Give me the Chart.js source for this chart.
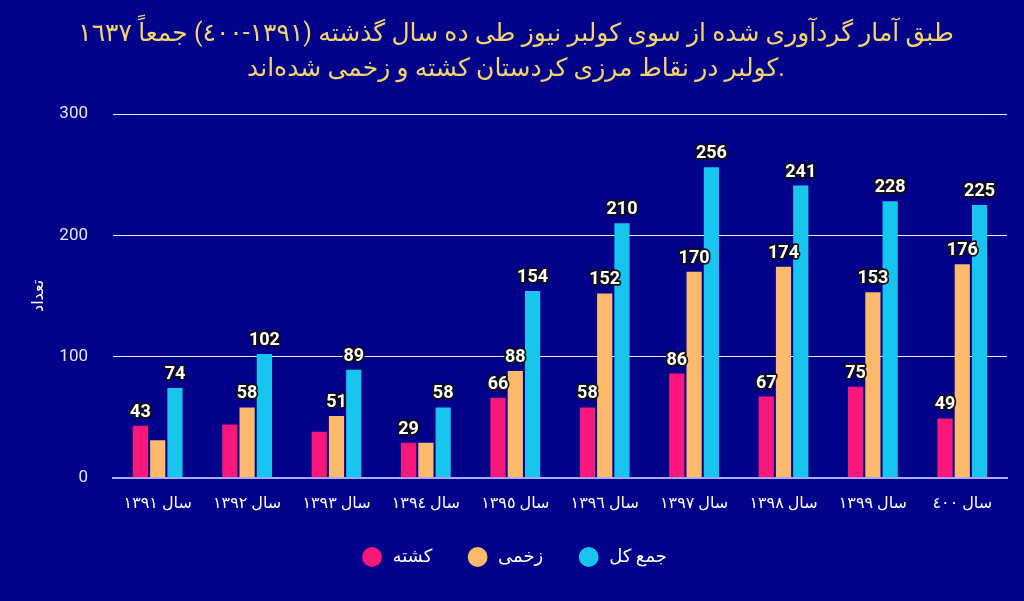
<!DOCTYPE html>
<html>
<head>
<meta charset="utf-8">
<script src="https://cdn.jsdelivr.net/npm/chart.js@4"></script>
<style>
  html, body { margin: 0; padding: 0; background: #02028a; }
  #wrap { width: 1024px; height: 601px; }
</style>
</head>
<body>
<div id="wrap"><canvas id="chart"></canvas></div>
<script>
const years = ['سال ١٣٩١', 'سال ١٣٩٢', 'سال ١٣٩٣', 'سال ١٣٩٤', 'سال ١٣٩٥',
  'سال ١٣٩٦', 'سال ١٣٩٧', 'سال ١٣٩٨', 'سال ١٣٩٩', 'سال ٤٠٠'];

const killed = [43, 44, 38, 29, 66, 58, 86, 67, 75, 49];
const injured = [31, 58, 51, 29, 88, 152, 170, 174, 153, 176];
const total = [74, 102, 89, 58, 154, 210, 256, 241, 228, 225];

// labels the original left out where they would collide
const killedShown = [true, false, false, true, true, true, true, true, true, true];
const injuredShown = [false, true, true, false, true, true, true, true, true, true];
const totalShown = [true, true, true, true, true, true, true, true, true, true];

const titleLines = [
  'طبق آمار گردآوری شده از سوی کولبر نیوز طی ده سال گذشته (١٣٩١-٤٠٠) جمعاً ١٦٣٧',
  'کولبر در نقاط مرزی کردستان کشته و زخمی شده‌اند.'
];

const yTicks = [0, 100, 200, 300];

const FONT = "Roboto, 'DejaVu Sans', sans-serif";

const valueLabels = {
  id: 'valueLabels',
  afterDatasetsDraw(chart) {
    const ctx = chart.ctx;
    ctx.save();
    ctx.font = 'bold 18px ' + FONT;
    ctx.textAlign = 'center';
    ctx.textBaseline = 'alphabetic';
    ctx.lineJoin = 'round';
    ctx.lineWidth = 3.5;
    ctx.strokeStyle = '#111';
    ctx.fillStyle = '#fff';
    chart.data.datasets.forEach((ds, i) => {
      const meta = chart.getDatasetMeta(i);
      meta.data.forEach((bar, j) => {
        if (!ds.shown[j]) return;
        const txt = String(ds.data[j]);
        ctx.strokeText(txt, bar.x, bar.y - 9);
        ctx.fillText(txt, bar.x, bar.y - 9);
      });
    });
    ctx.restore();
  }
};

// spaces widen the legend items without the extra vertical padding
new Chart(document.getElementById('chart'), {
  type: 'bar',
  data: {
    labels: years,
    datasets: [
      { label: ' کشته   ', data: killed, shown: killedShown, backgroundColor: '#f8177a' },
      { label: ' زخمی   ', data: injured, shown: injuredShown, backgroundColor: '#fdb96c' },
      { label: ' جمع کل', data: total, shown: totalShown, backgroundColor: '#18c5ef' }
    ]
  },
  options: {
    responsive: true,
    maintainAspectRatio: false,
    animation: false,
    datasets: { bar: { categoryPercentage: 0.58, barPercentage: 0.88 } },
    layout: { padding: { left: 25, right: 17, top: 0, bottom: 25 } },
    plugins: {
      title: {
        display: true,
        text: titleLines,
        color: '#f4d46c',
        font: { family: FONT, size: 25, weight: 'normal', lineHeight: 1.4 },
        padding: { top: 17, bottom: 27 }
      },
      legend: {
        position: 'bottom',
        labels: {
          color: '#fff',
          usePointStyle: true,
          pointStyle: 'circle',
          boxWidth: 14,
          boxHeight: 14,
          padding: 25,
          font: { family: FONT, size: 18 }
        }
      },
      tooltip: { enabled: false }
    },
    scales: {
      x: {
        grid: { display: false },
        border: { display: true, color: '#a9a9ff', width: 2 },
        ticks: { color: '#fff', padding: 9, font: { family: FONT, size: 16 } }
      },
      y: {
        min: 0,
        max: 300,
        afterBuildTicks: axis => { axis.ticks = yTicks.map(v => ({ value: v })); },
        afterFit: axis => { axis.width = 88; },
        grid: {
          color: c => c.tick.value === 0 ? '#a9a9ff' : '#ececff',
          drawTicks: false
        },
        border: { display: false },
        ticks: { color: '#e6e6f0', padding: 25, font: { family: FONT, size: 17 } },
        title: {
          display: true,
          text: 'تعداد',
          color: '#fff',
          font: { family: FONT, size: 16 }
        }
      }
    }
  },
  plugins: [valueLabels]
});
</script>
</body>
</html>
